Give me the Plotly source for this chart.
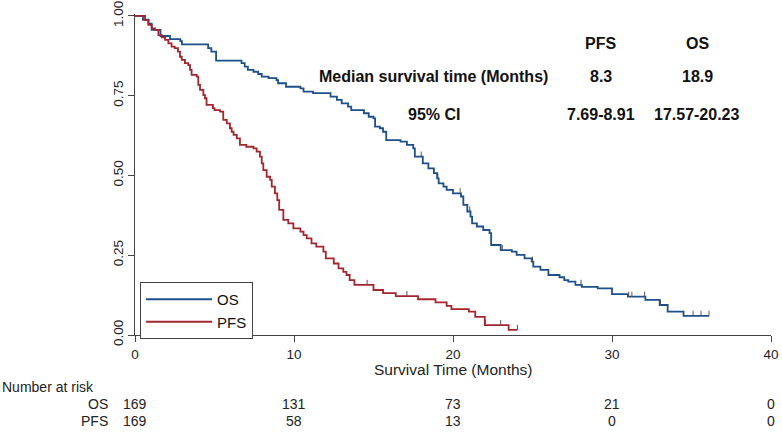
import numpy as np
import plotly.graph_objects as go

# ---------------- data ----------------
os_time = [0, 0.5, 0.85, 1.05, 1.6, 2.2, 2.85, 2.95, 4.6, 4.8, 5.1, 6.7, 6.9, 7.1, 7.45, 7.75, 7.97,
           8.4, 8.9, 9.0, 9.5, 10.4, 10.6, 11.2, 12.3, 12.7, 13.0, 13.4, 13.6, 14.4, 14.7, 15.0, 15.1,
           15.4, 15.6, 15.8, 16.7, 17.1, 17.5, 17.6, 18.1, 18.45, 18.8, 19.0, 19.1, 19.4, 19.6, 20.0,
           20.5, 20.65, 20.9, 21.1, 21.2, 21.5, 21.9, 22.3, 22.4, 23.0, 23.7, 24.0, 24.5, 24.95, 25.05,
           25.5, 26.0, 26.7, 27.0, 27.25, 27.7, 28.1, 29.1, 30.0, 31.0, 32.1, 33.0, 33.5, 34.5, 36.1]
os_surv = [1.0, 0.988, 0.976, 0.956, 0.937, 0.927, 0.921, 0.911, 0.899, 0.888, 0.860, 0.852, 0.841,
           0.831, 0.825, 0.818, 0.810, 0.805, 0.799, 0.789, 0.778, 0.773, 0.763, 0.758, 0.747, 0.737,
           0.726, 0.716, 0.705, 0.695, 0.684, 0.679, 0.653, 0.648, 0.637, 0.611, 0.606, 0.596, 0.585,
           0.559, 0.538, 0.522, 0.507, 0.491, 0.475, 0.465, 0.455, 0.444, 0.434, 0.408, 0.387, 0.371,
           0.350, 0.340, 0.329, 0.319, 0.282, 0.266, 0.261, 0.251, 0.240, 0.230, 0.214, 0.204, 0.188,
           0.181, 0.172, 0.167, 0.157, 0.151, 0.146, 0.128, 0.120, 0.110, 0.094, 0.073, 0.060, 0.060]
os_censor = [18.0, 19.05, 20.45, 21.05, 23.1, 25.0, 28.05, 31.05, 31.25, 32.05, 33.05, 35.1, 35.6, 36.1]

pfs_time = [0, 0.63, 0.84, 1.05, 1.26, 1.47, 1.68, 1.89, 2.1, 2.3, 2.5, 2.7, 2.83, 2.94, 3.14, 3.35,
            3.46, 3.56, 3.88, 3.98, 4.09, 4.3, 4.4, 4.5, 4.9, 5.0, 5.35, 5.55, 5.77, 5.97, 6.08, 6.2,
            6.4, 6.6, 7.0, 7.45, 7.65, 7.86, 7.97, 8.07, 8.28, 8.5, 8.6, 8.8, 8.95, 9.07, 9.33, 9.64,
            9.96, 10.4, 10.6, 10.8, 11.1, 11.4, 11.85, 12.0, 12.5, 12.8, 13.1, 13.3, 13.5, 13.8, 15.0,
            15.6, 16.4, 17.8, 18.9, 19.6, 19.9, 21.0, 21.4, 22.0, 23.5, 24.05]
pfs_surv = [1.0, 0.987, 0.972, 0.961, 0.956, 0.940, 0.933, 0.925, 0.914, 0.904, 0.899, 0.888, 0.872,
            0.862, 0.852, 0.846, 0.831, 0.815, 0.810, 0.784, 0.768, 0.752, 0.742, 0.721, 0.711, 0.705,
            0.700, 0.674, 0.663, 0.648, 0.637, 0.627, 0.616, 0.596, 0.590, 0.585, 0.575, 0.559, 0.538,
            0.517, 0.496, 0.486, 0.465, 0.444, 0.423, 0.392, 0.361, 0.350, 0.334, 0.324, 0.313, 0.303,
            0.287, 0.277, 0.261, 0.240, 0.224, 0.209, 0.198, 0.188, 0.172, 0.157, 0.141, 0.131, 0.122,
            0.112, 0.102, 0.091, 0.081, 0.073, 0.057, 0.031, 0.016, 0.016]
pfs_censor = [14.6, 17.1, 22.05, 23.0, 24.05]

risk_times = [0, 10, 20, 30, 40]
risk_os = [169, 131, 73, 21, 0]
risk_pfs = [169, 58, 13, 0, 0]

table_cols = ["PFS", "OS"]
median_vals = ["8.3", "18.9"]
ci_vals = ["7.69-8.91", "17.57-20.23"]

# ---------------- styling ----------------
OS_COLOR = "#1d4f8b"
PFS_COLOR = "#a3262e"
FONT = "Arial, 'Liberation Sans', sans-serif"
W, H = 782, 433
ML, MR, MT, MB = 135, 11, 14, 98


def step_value(times, surv, t):
    idx = np.searchsorted(np.asarray(times), t, side="right") - 1
    return surv[max(idx, 0)]


fig = go.Figure()

fig.add_trace(go.Scatter(x=os_time, y=os_surv, mode="lines", line_shape="hv",
                         line=dict(color=OS_COLOR, width=1.8), name="OS"))
fig.add_trace(go.Scatter(x=pfs_time, y=pfs_surv, mode="lines", line_shape="hv",
                         line=dict(color=PFS_COLOR, width=1.8), name="PFS"))

for times, surv, cens in [(os_time, os_surv, os_censor), (pfs_time, pfs_surv, pfs_censor)]:
    cy = [step_value(times, surv, c) for c in cens]
    fig.add_trace(go.Scatter(
        x=cens, y=cy, mode="markers", showlegend=False, hoverinfo="skip",
        marker=dict(size=1, opacity=0),
        error_y=dict(type="data", symmetric=False, array=[0.016] * len(cens),
                     arrayminus=[0] * len(cens), thickness=1, width=0, color="#555555")))

fig.update_xaxes(range=[0, 40], tickvals=risk_times, ticks="outside", ticklen=6, tickwidth=1,
                 tickcolor="#444", showline=True, linecolor="#444", linewidth=1,
                 showgrid=False, zeroline=False, automargin=False, ticklabelstandoff=1,
                 ticklabeloverflow="allow",
                 tickfont=dict(family=FONT, size=13.5, color="#222"))
fig.update_yaxes(range=[0, 1.006], tickvals=[0, 0.25, 0.5, 0.75, 1.0],
                 ticktext=["0.00", "0.25", "0.50", "0.75", "1.00"], tickangle=-90,
                 ticks="outside", ticklen=6, tickwidth=1, tickcolor="#444",
                 showline=True, linecolor="#444", linewidth=1, showgrid=False, zeroline=False,
                 automargin=False, ticklabeloverflow="allow",
                 tickfont=dict(family=FONT, size=13.5, color="#222"))

ph = H - MT - MB
def py_to_paper(py):
    return (H - MB - py) / ph

ann = []
# median survival table
col_x = [29.3, 35.35]
for cx, head, med, ci in zip(col_x, table_cols, median_vals, ci_vals):
    ann.append(dict(x=cx, y=0.914, xref="x", yref="y", text="<b>%s</b>" % head, showarrow=False))
    ann.append(dict(x=cx, y=0.810, xref="x", yref="y", text="<b>%s</b>" % med, showarrow=False))
    ann.append(dict(x=cx, y=0.690, xref="x", yref="y", text="<b>%s</b>" % ci, showarrow=False))
ann.append(dict(x=18.8, y=0.810, xref="x", yref="y", text="<b>Median survival time (Months)</b>",
                showarrow=False))
ann.append(dict(x=18.8, y=0.690, xref="x", yref="y", text="<b>95% CI</b>", showarrow=False))
for a in ann:
    a["font"] = dict(family=FONT, size=16, color="#111")
    a["xanchor"] = "center"
    a["yanchor"] = "middle"

# x axis title
title_ann = [dict(x=20, xref="x", xanchor="center", y=py_to_paper(369), yref="paper",
                  yanchor="middle", text="Survival Time (Months)", showarrow=False,
                  font=dict(family=FONT, size=15.5, color="#222"))]

# number at risk table
risk_ann = [dict(x=0, xref="paper", xanchor="left", y=py_to_paper(387), yref="paper",
                 text="Number at risk", showarrow=False, xshift=-ML)]
for label, vals, py in [("OS", risk_os, 404), ("PFS", risk_pfs, 421)]:
    risk_ann.append(dict(x=0, xref="paper", xanchor="right", y=py_to_paper(py), yref="paper",
                         text=label, showarrow=False, xshift=-25))
    for t, v in zip(risk_times, vals):
        risk_ann.append(dict(x=t, xref="x", xanchor="center", y=py_to_paper(py), yref="paper",
                             text=str(v), showarrow=False))
for a in risk_ann:
    a["font"] = dict(family=FONT, size=14, color="#222")
    a["yanchor"] = "middle"

fig.update_layout(
    width=W, height=H, margin=dict(l=ML, r=MR, t=MT, b=MB, autoexpand=False),
    paper_bgcolor="white", plot_bgcolor="white",
    annotations=ann + title_ann + risk_ann,
    showlegend=True,
    legend=dict(x=0.008, y=py_to_paper(282), xanchor="left", yanchor="top",
                bgcolor="white", bordercolor="#444", borderwidth=1,
                font=dict(family=FONT, size=15, color="#111"), itemwidth=66,
                tracegroupgap=0),
)

fig.write_html("out.html", config={"displayModeBar": False},
               post_script="document.body.style.margin='0';document.body.style.overflow='hidden';")
